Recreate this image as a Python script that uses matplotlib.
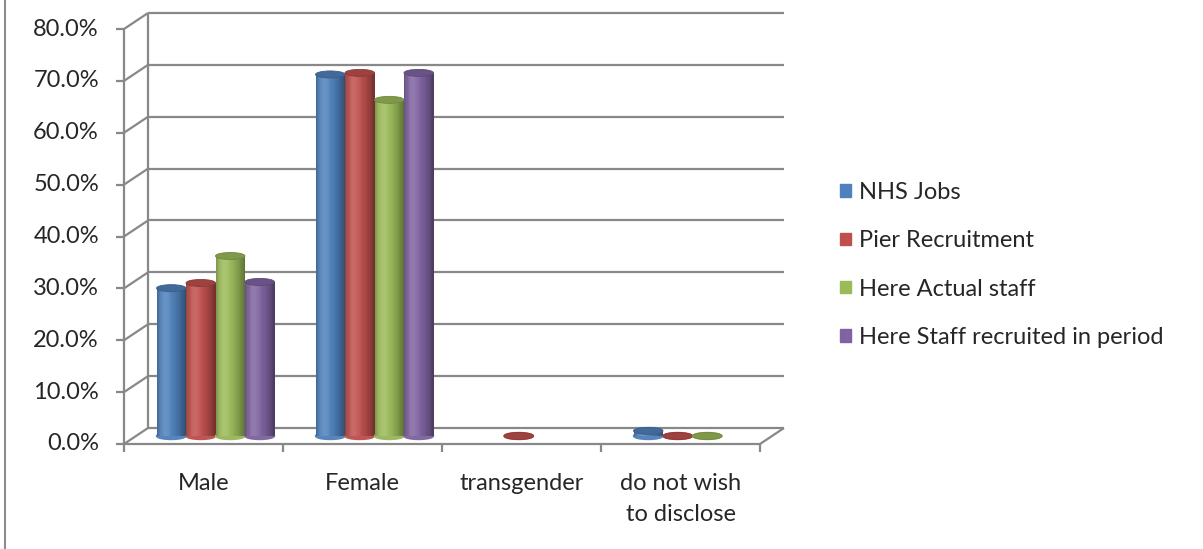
"""Excel-style 3D cylinder chart: gender split by recruitment source."""

import numpy as np
import matplotlib
matplotlib.use("Agg")
import matplotlib.pyplot as plt
from matplotlib.patches import Ellipse, Rectangle
from matplotlib.colors import to_rgb
from matplotlib.lines import Line2D

categories = ["Male", "Female", "transgender", "do not wish\nto disclose"]
series = ["NHS Jobs", "Pier Recruitment", "Here Actual staff",
          "Here Staff recruited in period"]
nhs_jobs = [28.5, 69.7, np.nan, 1.0]
pier = [29.5, 70.0, 0.0, 0.0]
here_actual = [34.7, 64.8, np.nan, 0.0]
here_recruited = [29.7, 70.0, np.nan, np.nan]
y_ticks = [0, 10, 20, 30, 40, 50, 60, 70, 80]

COLORS = ["#4F81BD", "#C0504D", "#9BBB59", "#8064A2"]
GRID = "#888888"
FONT = "Lato"
FS = 17

W, H = 1203, 549
fig = plt.figure(figsize=(W / 100, H / 100), dpi=100)
# front plane: x 0..4 -> px 124..760, y 0..80 -> px 444..29
ax = fig.add_axes([124 / W, (H - 444) / H, 636 / W, 415 / H])
ax.set_xlim(0, 4)
ax.set_ylim(0, 80)
ax.axis("off")

PX = 636 / 4          # px per x unit
PY = 415 / 80         # px per y unit
DX, DY = 24 / PX, 16 / PY   # depth offset of the back wall


def line(xs, ys, **kw):
    ax.plot(xs, ys, color=GRID, lw=1.6, clip_on=False,
            solid_capstyle="butt", **kw)


# back wall, side wall, floor
for v in y_ticks:
    line([DX, 4 + DX], [v + DY, v + DY])
    line([0, DX], [v, v + DY])
    line([-8 / PX, 0], [v, v])
    ax.text(-25 / PX, v, f"{v:.1f}%", ha="right", va="center",
            fontsize=FS, family=FONT, color="#262626")
line([DX, DX], [DY, 80 + DY])
line([0, 0], [0, 80])
line([0, 4], [0, 0])
line([4, 4 + DX], [0, DY])
for i in range(5):
    line([i, i], [0, -8 / PY])
for i, c in enumerate(categories):
    ax.text(i + 0.5, -29 / PY, c, ha="center", va="top", fontsize=FS,
            family=FONT, color="#262626", linespacing=1.6)


def shade(color, t):
    c = np.array(to_rgb(color))
    light = 0.14 * np.exp(-((t - 0.3) / 0.2) ** 2)
    if t < 0.3:
        dark = 0.22 * ((0.3 - t) / 0.3) ** 2
    else:
        dark = 0.42 * ((t - 0.3) / 0.7) ** 2.2
    c = c + (1 - c) * light
    return np.clip(c * (1 - dark), 0, 1)


def cylinder(cx, top, w, color, z):
    base = DY / 2
    eh = 7 / PY
    x0 = cx - w / 2
    dark = np.array(to_rgb(color)) * 0.82
    ax.add_patch(Ellipse((cx, base), w, eh, color=shade(color, 0.5),
                         zorder=z, clip_on=False))
    n = 24
    if top > 0:
        for k in range(n):
            t = (k + 0.5) / n
            ax.add_patch(Rectangle((x0 + k * w / n, base), w / n + 0.001, top,
                                   color=shade(color, t), lw=0, zorder=z + 0.1,
                                   clip_on=False))
    ax.add_patch(Ellipse((cx, base + top), w, eh, facecolor=dark,
                         edgecolor=np.array(to_rgb(color)) * 0.72, lw=0.6,
                         zorder=z + 0.2, clip_on=False))


values = [nhs_jobs, pier, here_actual, here_recruited]
bw = 0.1855
for s, vals in enumerate(values):
    for i, v in enumerate(vals):
        if np.isnan(v):
            continue
        cx = i + 0.5 + (s - 1.5) * bw + DX / 2
        cylinder(cx, v, bw, COLORS[s], 3 + s)

# legend
handles = [Rectangle((0, 0), 1, 1, color=c) for c in COLORS]
fig.legend(handles, series, loc="upper left",
           bbox_to_anchor=(819 / W, 1 - 161 / H), frameon=False,
           prop={"family": FONT, "size": FS}, handlelength=0.45,
           handleheight=0.45, handletextpad=0.35, labelspacing=1.15,
           labelcolor="#262626")

fig.add_artist(Line2D([5 / W, 5 / W], [0, 1], color="#8c8c8c", lw=1.5,
                      transform=fig.transFigure))

fig.savefig("out.png", dpi=100)
